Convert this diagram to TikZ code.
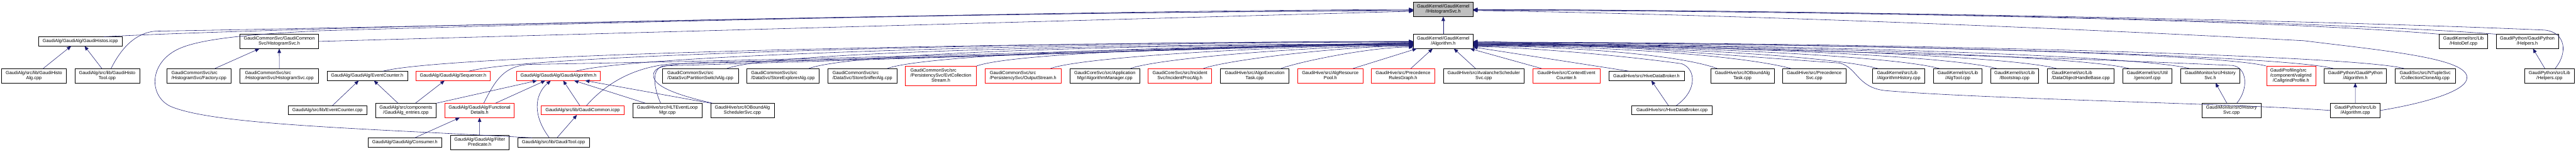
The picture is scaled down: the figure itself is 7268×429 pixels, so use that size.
\documentclass[tikz,border=0pt]{standalone}
\usepackage{fontspec}
\setmainfont{Liberation Sans}
\usetikzlibrary{arrows.meta}
\definecolor{edgeblue}{RGB}{25,25,112}
\definecolor{nodegray}{RGB}{191,191,191}
% label: all lines left aligned, last line centred
\newcommand{\dlab}[2]{\begin{tabular}{@{}l@{}}#1\\\multicolumn{1}{@{}c@{}}{#2}\end{tabular}}

\begin{document}
\begin{tikzpicture}[
    x=0.5pt, y=0.5pt,
    file/.style={rectangle, draw=black, fill=white, line width=0.5pt, inner sep=0pt, font=\fontsize{6.5}{7}\selectfont, minimum height=20pt},
    oneline/.style={file, minimum height=12.75pt},
    threeline/.style={file, minimum height=27.5pt},
    trunc/.style={draw=red},
    focus/.style={fill=nodegray},
    dep/.style={-{Triangle[length=6pt,width=5pt]}, draw=edgeblue, line width=0.5pt}
]
\path[fill=white] (0,0) rectangle (7268,-429);
\useasboundingbox (0,0) rectangle (7268,-429);

% Rank 0
\node[file, focus, minimum width=84pt] (ihs) at (4072,-26.7) {\dlab{GaudiKernel/GaudiKernel}{/IHistogramSvc.h}};

% Rank 1
\node[oneline, minimum width=118pt] (histos) at (226.6,-117) {GaudiAlg/GaudiAlg/GaudiHistos.icpp};
\node[file, minimum width=111.2pt] (hsvch) at (787.8,-117) {\dlab{GaudiCommonSvc/GaudiCommon}{Svc/HistogramSvc.h}};
\node[file, minimum width=84pt] (alg) at (4072,-117) {\dlab{GaudiKernel/GaudiKernel}{/Algorithm.h}};
\node[file, minimum width=68.5pt] (histodef) at (6950.5,-117) {\dlab{GaudiKernel/src/Lib}{/HistoDef.cpp}};
\node[file, minimum width=88pt] (helph) at (7130.6,-117) {\dlab{GaudiPython/GaudiPython}{/Helpers.h}};

% Rank 2
\node[file, minimum width=91.8pt] (histoalg) at (95.7,-214) {\dlab{GaudiAlg/src/lib/GaudiHisto}{Alg.cpp}};
\node[file, minimum width=91.6pt] (histotool) at (302.4,-214) {\dlab{GaudiAlg/src/lib/GaudiHisto}{Tool.cpp}};
\node[file, minimum width=91.25pt] (factory) at (561.2,-214) {\dlab{GaudiCommonSvc/src}{/HistogramSvc/Factory.cpp}};
\node[file, minimum width=111pt] (hsvccpp) at (788,-214) {\dlab{GaudiCommonSvc/src}{/HistogramSvc/HistogramSvc.cpp}};
\node[oneline, minimum width=113.5pt] (evch) at (1036,-214.5) {GaudiAlg/GaudiAlg/EventCounter.h};
\node[oneline, trunc, minimum width=104.5pt] (seq) at (1278.3,-214.5) {GaudiAlg/GaudiAlg/Sequencer.h};
\node[oneline, trunc, minimum width=118.25pt] (galg) at (1575.8,-214.5) {GaudiAlg/GaudiAlg/GaudiAlgorithm.h};
\node[file, minimum width=107pt] (partsw) at (1975.9,-214) {\dlab{GaudiCommonSvc/src}{/DataSvc/PartitionSwitchAlg.cpp}};
\node[file, minimum width=102pt] (storeexp) at (2209,-214) {\dlab{GaudiCommonSvc/src}{/DataSvc/StoreExplorerAlg.cpp}};
\node[file, minimum width=97.5pt] (storesniff) at (2433.2,-214) {\dlab{GaudiCommonSvc/src}{/DataSvc/StoreSnifferAlg.cpp}};
\node[threeline, trunc, minimum width=100.2pt] (evtcoll) at (2654.6,-214.5) {\dlab{GaudiCommonSvc/src\\/PersistencySvc/EvtCollection}{Stream.h}};
\node[file, trunc, minimum width=107.4pt] (outstream) at (2886.7,-214) {\dlab{GaudiCommonSvc/src}{/PersistencySvc/OutputStream.h}};
\node[file, minimum width=99pt] (algmgr) at (3117.3,-214) {\dlab{GaudiCoreSvc/src/Application}{Mgr/AlgorithmManager.cpp}};
\node[file, trunc, minimum width=89.5pt] (incproc) at (3329.1,-214) {\dlab{GaudiCoreSvc/src/Incident}{Svc/IncidentProcAlg.h}};
\node[file, minimum width=97pt] (algoexec) at (3540,-214) {\dlab{GaudiHive/src/AlgoExecution}{Task.cpp}};
\node[file, trunc, minimum width=92.25pt] (algres) at (3753.3,-214) {\dlab{GaudiHive/src/AlgResource}{Pool.h}};
\node[file, trunc, minimum width=89.5pt] (precrules) at (3958.5,-214) {\dlab{GaudiHive/src/Precedence}{RulesGraph.h}};
\node[file, minimum width=114.2pt] (avalanche) at (4186.2,-214) {\dlab{GaudiHive/src/AvalancheScheduler}{Svc.cpp}};
\node[file, trunc, minimum width=94.5pt] (ctxevt) at (4419.5,-214) {\dlab{GaudiHive/src/ContextEvent}{Counter.h}};
\node[oneline, minimum width=106.5pt] (hdbh) at (4645.3,-214.5) {GaudiHive/src/HiveDataBroker.h};
\node[file, minimum width=89.5pt] (ioboundtask) at (4916,-214) {\dlab{GaudiHive/src/IOBoundAlg}{Task.cpp}};
\node[file, minimum width=89.5pt] (precsvc) at (5118.5,-214) {\dlab{GaudiHive/src/Precedence}{Svc.cpp}};
\node[file, minimum width=74pt] (alghist) at (5357,-214) {\dlab{GaudiKernel/src/Lib}{/AlgorithmHistory.cpp}};
\node[file, minimum width=68.2pt] (algtool) at (5523.8,-214) {\dlab{GaudiKernel/src/Lib}{/AlgTool.cpp}};
\node[file, minimum width=68pt] (bootstrap) at (5684,-214) {\dlab{GaudiKernel/src/Lib}{/Bootstrap.cpp}};
\node[file, minimum width=94pt] (dohb) at (5870.6,-214) {\dlab{GaudiKernel/src/Lib}{/DataObjectHandleBase.cpp}};
\node[file, minimum width=69.5pt] (genconf) at (6058.5,-214) {\dlab{GaudiKernel/src/Util}{/genconf.cpp}};
\node[file, minimum width=83.5pt] (histsvch) at (6236,-214) {\dlab{GaudiMonitor/src/History}{Svc.h}};
\node[threeline, trunc, minimum width=69.25pt] (callgrind) at (6463.8,-214.5) {\dlab{GaudiProfiling/src\\/component/valgrind}{/CallgrindProfile.h}};
\node[file, minimum width=88.2pt] (gpalgh) at (6645.2,-214) {\dlab{GaudiPython/GaudiPython}{/Algorithm.h}};
\node[file, minimum width=85.3pt] (collclone) at (6842.3,-214) {\dlab{GaudiSvc/src/NTupleSvc}{/CollectionCloneAlg.cpp}};
\node[file, minimum width=70pt] (helpcpp) at (7193,-214) {\dlab{GaudiPython/src/Lib}{/Helpers.cpp}};

% Rank 3
\node[oneline, minimum width=111pt] (evccpp) at (923.9,-311.5) {GaudiAlg/src/lib/EventCounter.cpp};
\node[file, minimum width=86pt] (entries) at (1145,-312) {\dlab{GaudiAlg/src/components}{/GaudiAlg\_entries.cpp}};
\node[file, trunc, minimum width=98pt] (funcdet) at (1353,-312) {\dlab{GaudiAlg/GaudiAlg/Functional}{Details.h}};
\node[oneline, trunc, minimum width=116.8pt] (gcommon) at (1643.8,-311.5) {GaudiAlg/src/lib/GaudiCommon.icpp};
\node[file, minimum width=98.2pt] (hltevt) at (1882.9,-312) {\dlab{GaudiHive/src/HLTEventLoop}{Mgr.cpp}};
\node[file, minimum width=89.5pt] (ioboundsched) at (2094.5,-312) {\dlab{GaudiHive/src/IOBoundAlg}{SchedulerSvc.cpp}};
\node[oneline, minimum width=113.4pt] (hdbcpp) at (4717.4,-311.5) {GaudiHive/src/HiveDataBroker.cpp};
\node[file, minimum width=83.5pt] (histsvccpp) at (6295.9,-312) {\dlab{GaudiMonitor/src/History}{Svc.cpp}};
\node[file, minimum width=70.25pt] (gpalgcpp) at (6645.3,-312) {\dlab{GaudiPython/src/Lib}{/Algorithm.cpp}};

% Rank 4
\node[oneline, minimum width=103.5pt] (consumer) at (1142.3,-402.5) {GaudiAlg/GaudiAlg/Consumer.h};
\node[file, minimum width=82.5pt] (filterpred) at (1353.4,-402.5) {\dlab{GaudiAlg/GaudiAlg/Filter}{Predicate.h}};
\node[oneline, minimum width=101.5pt] (gtool) at (1561.5,-402.5) {GaudiAlg/src/lib/GaudiTool.cpp};

% GaudiHistos.icpp
\draw[dep] ([xshift=13pt]histoalg.north) -- ([xshift=-13pt]histos.south);
\draw[dep] ([xshift=-7.5pt]histotool.north) -- ([xshift=6pt]histos.south);

% IHistogramSvc.h, from the left
\draw[dep] ([xshift=33pt]histos.north) .. controls (700,-82) and (2400,-40) .. ([yshift=-0.8pt]ihs.west);
\draw[dep] ([xshift=5.5pt]histotool.north) .. controls (340,-140) and (380,-92) .. (440,-88) .. controls (1500,-70) and (3000,-30) .. (ihs.west);
\draw[dep] ([xshift=-30pt]gtool.north) .. controls (1000,-362) and (600,-352) .. (480,-300) .. controls (420,-270) and (420,-180) .. (500,-140) .. controls (560,-110) and (700,-97) .. (900,-87) .. controls (2000,-55) and (3000,-34) .. ([yshift=-1.7pt]ihs.west);
\draw[dep] (hsvch.east) -- ([yshift=-2.5pt]ihs.west);

% IHistogramSvc.h, from the right
\draw[dep] (histodef.north west) .. controls (6400,-55) and (5200,-32) .. ([yshift=-1pt]ihs.east);
\draw[dep] (helph.north west) .. controls (6600,-62) and (5300,-30) .. ([yshift=-0.3pt]ihs.east);
\draw[dep] ([xshift=8pt]helpcpp.north) .. controls (7245,-150) and (7240,-92) .. (7180,-85) .. controls (6500,-55) and (5000,-28) .. (ihs.east);
\draw[dep] (gpalgcpp.east) .. controls (6850,-290) and (6990,-250) .. (6955,-205) .. controls (6920,-160) and (6700,-140) .. (6500,-115) .. controls (5500,-62) and (4600,-36) .. ([yshift=-1.5pt]ihs.east);
\draw[dep] (alg) -- (ihs);

% HistogramSvc.h
\draw[dep] ([xshift=22.5pt]factory.north) -- ([xshift=-28pt]hsvch.south);
\draw[dep] (hsvccpp) -- (hsvch);

% EventCounter.h, Sequencer.h
\draw[dep] ([xshift=7pt]evccpp.north) -- ([xshift=-12pt]evch.south);
\draw[dep] ([xshift=-11pt]entries.north) -- ([xshift=9.5pt]evch.south);
\draw[dep] ([xshift=13.5pt]entries.north) -- ([xshift=-12pt]seq.south);

% GaudiAlgorithm.h
\draw[dep] (entries.north east) -- ([xshift=-30.4pt]galg.south);
\draw[dep] ([xshift=22.5pt]funcdet.north) -- ([xshift=-18.6pt]galg.south);
\draw[dep] ([xshift=-5.75pt]gtool.north) .. controls (1505,-330) and (1505,-270) .. ([xshift=-11pt]galg.south);
\draw[dep] ([xshift=-4pt]gcommon.north) -- ([xshift=6.6pt]galg.south);
\draw[dep] ([xshift=-31pt]hltevt.north) -- ([xshift=22pt]galg.south);
\draw[dep] (ioboundsched.north west) -- ([xshift=37.6pt]galg.south);

% FunctionalDetails.h, GaudiCommon.icpp
\draw[dep] ([xshift=14pt]consumer.north) -- ([xshift=-28pt]funcdet.south);
\draw[dep] (filterpred) -- (funcdet);
\draw[dep] ([xshift=5pt]gtool.north) -- ([xshift=-8pt]gcommon.south);

% HiveDataBroker.h, HistorySvc.h, Helpers.h, Algorithm.h (python)
\draw[dep] ([xshift=-5pt]hdbcpp.north) -- ([xshift=7pt]hdbh.south);
\draw[dep] ([xshift=-6.5pt]histsvccpp.north) -- ([xshift=7.5pt]histsvch.south);
\draw[dep] ([xshift=-6.5pt]helpcpp.north) -- ([xshift=8pt]helph.south);
\draw[dep] (gpalgcpp) -- (gpalgh);

% Algorithm.h, from the left
\draw[dep] ([xshift=22pt]seq.north) .. controls +(15:200) and +(-900,0) .. (alg.west);
\draw[dep] ([xshift=22pt]evch.north) .. controls +(15:200) and +(-1000,0) .. ([yshift=-0.5pt]alg.west);
\draw[dep] ([xshift=24pt]galg.north) .. controls +(15:200) and +(-800,0) .. ([yshift=-1pt]alg.west);
\draw[dep] ([xshift=6pt]funcdet.north) .. controls (1400,-220) and (1425,-188) .. (1490,-182) .. controls (2500,-165) and (3500,-130) .. ([yshift=-1.5pt]alg.west);
\draw[dep] ([xshift=5.5pt]gcommon.north) .. controls (1710,-235) and (1790,-188) .. (1900,-180) .. controls (2800,-160) and (3500,-132) .. ([yshift=-2pt]alg.west);
\draw[dep] ([xshift=-9.5pt]hltevt.north) .. controls (1845,-250) and (1835,-190) .. (1875,-186) .. controls (2600,-165) and (3500,-134) .. ([yshift=-2.5pt]alg.west);
\draw[dep] ([xshift=-42pt]ioboundsched.north) .. controls (1880,-262) and (1835,-235) .. (1845,-205) .. controls (1852,-185) and (1900,-180) .. (2000,-176) .. controls (2900,-155) and (3500,-135) .. ([yshift=-3pt]alg.west);
\draw[dep] ([xshift=37.5pt]partsw.north) .. controls +(20:150) and +(-700,0) .. ([yshift=-3.5pt]alg.west);
\draw[dep] ([xshift=36.5pt]storeexp.north) .. controls +(20:150) and +(-600,0) .. ([yshift=-4pt]alg.west);
\draw[dep] ([xshift=35pt]storesniff.north) .. controls +(20:130) and +(-500,0) .. ([yshift=-4.5pt]alg.west);
\draw[dep] (evtcoll.north east) .. controls +(20:120) and +(-400,0) .. ([yshift=-5pt]alg.west);
\draw[dep] ([xshift=38.5pt]outstream.north) .. controls +(20:100) and +(-350,0) .. ([yshift=-5.5pt]alg.west);
\draw[dep] ([xshift=36pt]algmgr.north) .. controls +(20:90) and +(-260,0) .. ([yshift=-6pt]alg.west);
\draw[dep] ([xshift=33pt]incproc.north) .. controls +(20:70) and +(-200,0) .. ([yshift=-6.5pt]alg.west);
\draw[dep] ([xshift=37pt]algoexec.north) .. controls +(20:60) and +(-120,0) .. ([yshift=-8pt]alg.west);

% Algorithm.h, from below
\draw[dep] ([xshift=32pt]algres.north) -- ([xshift=-37.5pt]alg.south);
\draw[dep] ([xshift=11pt]precrules.north) -- ([xshift=-15pt]alg.south);
\draw[dep] ([xshift=-11.5pt]avalanche.north) -- ([xshift=15pt]alg.south);
\draw[dep] ([xshift=-35pt]ctxevt.north) -- ([xshift=38pt]alg.south);

% Algorithm.h, from the right
\draw[dep] ([xshift=-24pt]hdbh.north) -- ([yshift=-8pt]alg.east);
\draw[dep] ([xshift=6pt]hdbcpp.north) .. controls (4790,-255) and (4785,-195) .. (4745,-180) .. controls (4600,-160) and (4350,-136) .. ([yshift=-7pt]alg.east);
\draw[dep] ([xshift=-35.5pt]ioboundtask.north) .. controls +(160:120) and +(250,0) .. ([yshift=-6.5pt]alg.east);
\draw[dep] ([xshift=-32.75pt]precsvc.north) .. controls +(165:150) and +(350,0) .. ([yshift=-6pt]alg.east);
\draw[dep] ([xshift=-29.5pt]alghist.north) .. controls +(165:150) and +(450,0) .. ([yshift=-5.5pt]alg.east);
\draw[dep] ([xshift=-26pt]algtool.north) .. controls +(165:150) and +(500,0) .. ([yshift=-5pt]alg.east);
\draw[dep] ([xshift=-25pt]bootstrap.north) .. controls +(165:150) and +(600,0) .. ([yshift=-4.5pt]alg.east);
\draw[dep] ([xshift=-34pt]dohb.north) .. controls +(165:150) and +(650,0) .. ([yshift=-4pt]alg.east);
\draw[dep] ([xshift=-25.75pt]genconf.north) .. controls +(165:150) and +(700,0) .. ([yshift=-3.5pt]alg.east);
\draw[dep] ([xshift=-29.5pt]histsvch.north) .. controls +(165:150) and +(800,0) .. ([yshift=-3pt]alg.east);
\draw[dep] ([xshift=7.5pt]histsvccpp.north) .. controls (6345,-250) and (6340,-192) .. (6300,-185) .. controls (5800,-162) and (5000,-138) .. ([yshift=-2.5pt]alg.east);
\draw[dep] (callgrind.north west) .. controls +(165:150) and +(900,0) .. ([yshift=-2pt]alg.east);
\draw[dep] ([xshift=-31pt]gpalgh.north) .. controls +(165:150) and +(1000,0) .. ([yshift=-1.5pt]alg.east);
\draw[dep] ([xshift=-29.6pt]collclone.north) .. controls +(165:150) and +(1100,0) .. ([yshift=-1pt]alg.east);
\draw[dep] (gpalgcpp.west) .. controls (6300,-292) and (5600,-280) .. (5320,-256) .. controls (5240,-248) and (5240,-190) .. (5190,-178) .. controls (4800,-152) and (4500,-122) .. (alg.east);

\end{tikzpicture}
\end{document}
